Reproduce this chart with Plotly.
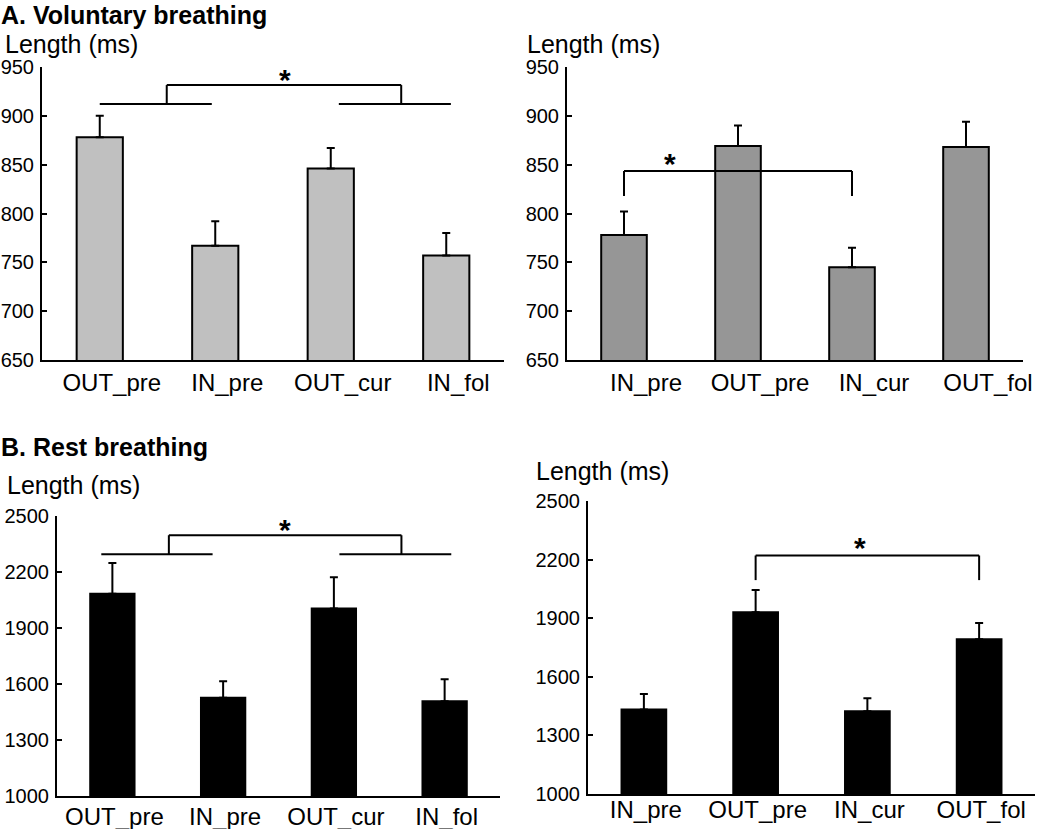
import plotly.graph_objects as go

# ---- data ----
vol_left_cats = ["OUT_pre", "IN_pre", "OUT_cur", "IN_fol"]
vol_left_mean = [878, 767, 846, 757]
vol_left_err = [22, 25, 21, 23]

vol_right_cats = ["IN_pre", "OUT_pre", "IN_cur", "OUT_fol"]
vol_right_mean = [778, 869, 745, 868]
vol_right_err = [24, 21, 20, 26]

rest_left_cats = ["OUT_pre", "IN_pre", "OUT_cur", "IN_fol"]
rest_left_mean = [2084, 1527, 2004, 1507]
rest_left_err = [164, 88, 168, 118]

rest_right_cats = ["IN_pre", "OUT_pre", "IN_cur", "OUT_fol"]
rest_right_mean = [1432, 1930, 1424, 1792]
rest_right_err = [80, 114, 66, 83]

W, H = 1050, 829
FONT = "Liberation Sans, Arial, sans-serif"


def px(x):
    return x / W


def py(y):
    return 1 - y / H


# panel: (cats, mean, err, fill, x-domain px, y-domain px, y range, dtick, label shift, standoff)
panels = [
    (vol_left_cats, vol_left_mean, vol_left_err, "#c0c0c0",
     (42, 504), (360, 67), (650, 950), 50, 12, 0),
    (vol_right_cats, vol_right_mean, vol_right_err, "#969696",
     (567, 1023), (360, 67), (650, 950), 50, 22, 0),
    (rest_left_cats, rest_left_mean, rest_left_err, "#000000",
     (57, 500), (796, 516), (1000, 2500), 300, 2, -2),
    (rest_right_cats, rest_right_mean, rest_right_err, "#000000",
     (588, 1035), (794, 501), (1000, 2500), 300, 2, -7),
]

fig = go.Figure()
layout = {}
for i, (cats, mean, err, fill, xd, yd, yr, dt, shift, stand) in enumerate(panels):
    n = "" if i == 0 else str(i + 1)
    fig.add_trace(go.Bar(
        x=cats, y=mean, width=0.4,
        marker=dict(color=fill, line=dict(color="black", width=2)),
        error_y=dict(type="data", array=err, arrayminus=[0] * len(err),
                     symmetric=False, color="black", thickness=2, width=4),
        xaxis="x" + n, yaxis="y" + n, showlegend=False,
    ))
    layout["xaxis" + n] = dict(
        domain=[px(xd[0]), px(xd[1])], anchor="y" + n, automargin=False,
        range=[-0.5, 3.5], showline=True, linecolor="black", linewidth=2,
        ticks="", showgrid=False, zeroline=False,
        tickfont=dict(family=FONT, size=24, color="black"),
        ticklabelshift=shift, ticklabelstandoff=stand,
    )
    layout["yaxis" + n] = dict(
        domain=[py(yd[0]), py(yd[1])], anchor="x" + n, automargin=False,
        range=list(yr), dtick=dt, tick0=yr[0],
        showline=True, linecolor="black", linewidth=2,
        ticks="inside", ticklen=5, tickwidth=2, tickcolor="black",
        showgrid=False, zeroline=False,
        tickfont=dict(family=FONT, size=20, color="black"),
        ticklabelstandoff=2,
    )

# significance brackets: axis suffix, segments (x0, y0, x1, y1), star (x, y)
brackets = [
    ("", [(0, 912, 0.97, 912), (2.07, 912, 3.04, 912),
          (0.58, 912, 0.58, 931.5), (2.61, 912, 2.61, 931.5),
          (0.58, 931.5, 2.61, 931.5)], (1.6, 942)),
    ("2", [(0, 843.5, 2, 843.5), (0, 818, 0, 843.5), (2, 818, 2, 843.5)],
     (0.4, 856)),
    ("3", [(-0.1, 2295, 0.905, 2295), (2.05, 2295, 3.06, 2295),
           (0.51, 2295, 0.51, 2397), (2.61, 2295, 2.61, 2397),
           (0.51, 2397, 2.61, 2397)], (1.56, 2454)),
    ("4", [(1, 2221, 3, 2221), (1, 2095, 1, 2221), (3, 2095, 3, 2221)],
     (1.93, 2290)),
]

shapes = []
annotations = []
for n, segs, star in brackets:
    for x0, y0, x1, y1 in segs:
        shapes.append(dict(type="line", xref="x" + n, yref="y" + n,
                           x0=x0, y0=y0, x1=x1, y1=y1,
                           line=dict(color="black", width=2)))
    annotations.append(dict(xref="x" + n, yref="y" + n, x=star[0], y=star[1],
                            text="<b>*</b>", showarrow=False, yshift=-5,
                            font=dict(family=FONT, size=30, color="black")))

# panel titles and axis captions (pixel positions of the reference)
texts = [
    ("<b>A. Voluntary breathing</b>", -1, 15),
    ("<b>B. Rest breathing</b>", -1, 447),
    ("Length (ms)", 3, 44),
    ("Length (ms)", 525, 44),
    ("Length (ms)", 5, 485),
    ("Length (ms)", 534, 471),
]
for t, x, y in texts:
    annotations.append(dict(xref="paper", yref="paper", x=px(x), y=py(y),
                            xanchor="left", yanchor="middle", text=t,
                            showarrow=False,
                            font=dict(family=FONT, size=25, color="black")))

fig.update_layout(
    width=W, height=H,
    margin=dict(l=0, r=0, t=0, b=0),
    paper_bgcolor="white", plot_bgcolor="white",
    shapes=shapes, annotations=annotations,
    **layout,
)

fig.write_html("out.html", config={"displayModeBar": False},
               post_script="document.body.style.margin='0';")
